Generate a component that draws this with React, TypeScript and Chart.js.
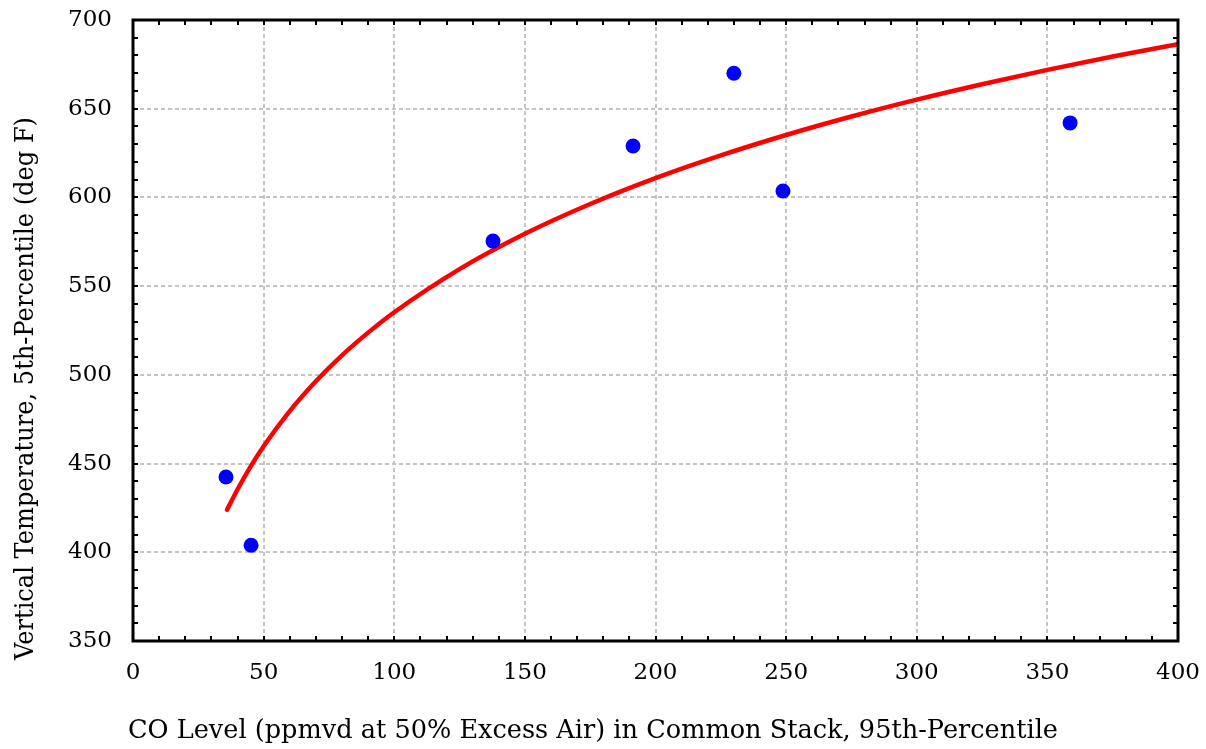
import React, { useEffect, useRef } from "react";
import { Chart, registerables } from "chart.js";

Chart.register(...registerables);

// Observed data points (CO level, vertical temperature)
const obsX = [35.6, 45.2, 137.8, 191.4, 230, 248.8, 358.7];
const obsY = [442.4, 404, 575.4, 629, 670, 603.6, 642];

// Fitted curve
const fitX = [36, 40, 45, 50, 60, 70, 80, 90, 100, 125, 150, 175, 200, 225, 250, 275, 300, 325, 350, 375, 400];
const fitY = [424, 435.4, 448.3, 459.8, 479.6, 496.4, 511, 523.8, 535.3, 559.6, 579.5, 596.3, 610.9, 623.7, 635.2, 645.6, 655.1, 663.8, 671.9, 679.4, 686.4];

const xTicks = [0, 50, 100, 150, 200, 250, 300, 350, 400];
const yTicks = [350, 400, 450, 500, 550, 600, 650, 700];
const xTitle = "CO Level (ppmvd at 50% Excess Air) in Common Stack, 95th-Percentile";
const yTitle = "Vertical Temperature, 5th-Percentile (deg F)";

const FONT = "'DejaVu Serif', serif";

const framePlugin = {
  id: "frameTicks",
  afterDatasetsDraw(chart: any) {
    const { ctx, chartArea: a, scales } = chart;
    const xs = scales.x;
    const ys = scales.y;
    ctx.save();
    ctx.strokeStyle = "#000";
    ctx.lineWidth = 2;
    const len = 5;
    ctx.beginPath();
    for (let v = xs.min; v <= xs.max; v += 10) {
      const px = Math.round(xs.getPixelForValue(v));
      ctx.moveTo(px, a.bottom);
      ctx.lineTo(px, a.bottom - len);
      ctx.moveTo(px, a.top);
      ctx.lineTo(px, a.top + len);
    }
    for (let v = ys.min; v <= ys.max; v += 10) {
      const py = Math.round(ys.getPixelForValue(v));
      ctx.moveTo(a.left, py);
      ctx.lineTo(a.left + len, py);
      ctx.moveTo(a.right, py);
      ctx.lineTo(a.right - len, py);
    }
    ctx.stroke();
    ctx.lineWidth = 3;
    ctx.strokeRect(a.left, a.top, a.right - a.left, a.bottom - a.top);

    // axis titles
    ctx.fillStyle = "#000";
    ctx.font = `26px ${FONT}`;
    ctx.textBaseline = "alphabetic";
    ctx.textAlign = "center";
    ctx.fillText(xTitle, 593, 738, 930);
    ctx.translate(33, 388.5);
    ctx.rotate(-Math.PI / 2);
    ctx.fillText(yTitle, 0, 0, 543);
    ctx.restore();
  },
};

export default function App() {
  const ref = useRef<HTMLCanvasElement | null>(null);
  useEffect(() => {
    if (!ref.current) return;
    const chart = new Chart(ref.current, {
      type: "scatter",
      data: {
        datasets: [
          {
            label: "fit",
            type: "line",
            data: fitX.map((x, i) => ({ x, y: fitY[i] })),
            borderColor: "#ff0000",
            borderWidth: 4.5,
            pointRadius: 0,
            tension: 0.4,
            cubicInterpolationMode: "monotone",
            borderCapStyle: "round",
            fill: false,
            order: 2,
          } as any,
          {
            label: "obs",
            data: obsX.map((x, i) => ({ x, y: obsY[i] })),
            backgroundColor: "#0000ff",
            borderColor: "#0000ff",
            pointRadius: 7.5,
            borderWidth: 0,
            order: 1,
          },
        ],
      },
      options: {
        animation: false,
        responsive: false,
        events: [],
        layout: { padding: { top: 20, right: 28, left: 0, bottom: 0 } },
        plugins: { legend: { display: false }, tooltip: { enabled: false } },
        scales: {
          x: {
            type: "linear",
            min: 0,
            max: 400,
            afterBuildTicks: (s: any) => {
              s.ticks = xTicks.map((v) => ({ value: v }));
            },
            afterFit: (s: any) => {
              s.height = 108;
              s.paddingLeft = 0;
              s.paddingRight = 0;
            },
            grid: {
              color: "#c4c4c4",
              lineWidth: 2,
              drawTicks: false,
            },
            border: { display: false, dash: [4, 3] },
            ticks: {
              color: "#000",
              font: { family: FONT, size: 23 },
              padding: 18,
              maxRotation: 0,
            },
          },
          y: {
            type: "linear",
            min: 350,
            max: 700,
            afterBuildTicks: (s: any) => {
              s.ticks = yTicks.map((v) => ({ value: v }));
            },
            afterFit: (s: any) => {
              s.width = 133;
              s.paddingTop = 0;
              s.paddingBottom = 0;
            },
            grid: {
              color: "#c4c4c4",
              lineWidth: 2,
              drawTicks: false,
            },
            border: { display: false, dash: [4, 3] },
            ticks: {
              color: "#000",
              font: { family: FONT, size: 23 },
              padding: 21,
            },
          },
        },
      },
      plugins: [framePlugin],
    });
    return () => chart.destroy();
  }, []);
  return (
    <div style={{ position: "fixed", left: 0, top: 0, width: 1206, height: 749, background: "#fff" }}>
      <canvas ref={ref} width={1206} height={749} style={{ width: 1206, height: 749 }} />
    </div>
  );
}
